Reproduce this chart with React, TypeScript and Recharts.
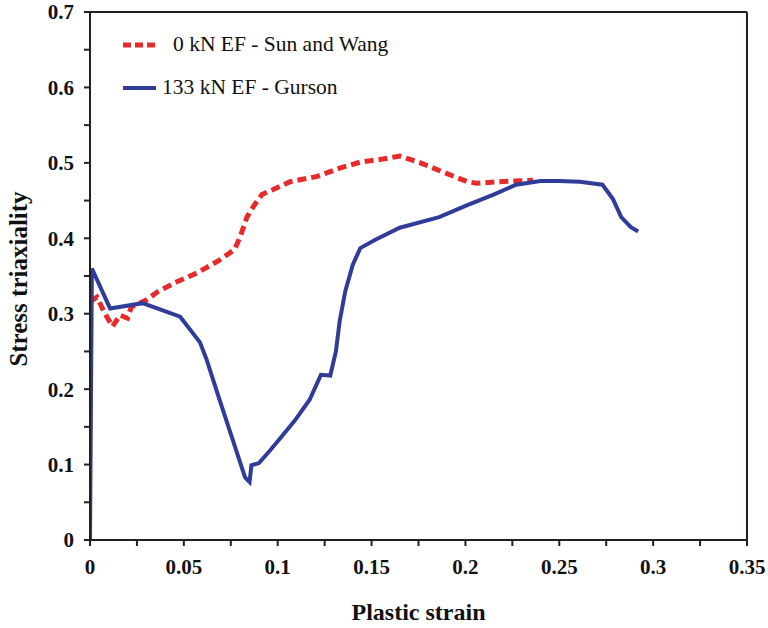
import React from "react";
import {
  LineChart, Line, XAxis, YAxis, ReferenceLine, Legend, Label,
} from "recharts";

// Sun and Wang, 0 kN EF
const sunWangStrain = [
  0, 0.0037, 0.008, 0.012, 0.016, 0.02, 0.022, 0.03, 0.036, 0.046, 0.057, 0.069,
  0.077, 0.08, 0.0836, 0.087, 0.0916, 0.097, 0.1066, 0.121, 0.133, 0.144, 0.156,
  0.165, 0.176, 0.188, 0.201, 0.206, 0.218, 0.236,
];
const sunWangTriax = [
  0.316, 0.322, 0.3, 0.283, 0.298, 0.294, 0.309, 0.318, 0.329, 0.342, 0.354, 0.371,
  0.385, 0.402, 0.428, 0.442, 0.458, 0.464, 0.475, 0.482, 0.493, 0.501, 0.505,
  0.509, 0.5, 0.488, 0.475, 0.473, 0.475, 0.477,
];

// Gurson, 133 kN EF
const gursonStrain = [
  0, 0.001, 0.0107, 0.028, 0.048, 0.0586, 0.062, 0.069, 0.076, 0.0826, 0.085,
  0.086, 0.09, 0.096, 0.101, 0.109, 0.117, 0.123, 0.128, 0.131, 0.133, 0.136,
  0.14, 0.144, 0.152, 0.165, 0.186, 0.201, 0.215, 0.227, 0.24, 0.25, 0.261,
  0.273, 0.2786, 0.283, 0.288, 0.292,
];
const gursonTriax = [
  0, 0.36, 0.307, 0.314, 0.296, 0.262, 0.24, 0.186, 0.133, 0.083, 0.077,
  0.099, 0.102, 0.119, 0.134, 0.158, 0.186, 0.219, 0.218, 0.25, 0.29, 0.33,
  0.365, 0.387, 0.398, 0.414, 0.428, 0.444, 0.458, 0.471, 0.476, 0.476, 0.475,
  0.471, 0.452, 0.428, 0.415, 0.409,
];

const xTicks = [0, 0.025, 0.05, 0.075, 0.1, 0.125, 0.15, 0.175, 0.2, 0.225, 0.25, 0.275, 0.3, 0.325, 0.35];
const xLabels = ["0", "", "0.05", "", "0.1", "", "0.15", "", "0.2", "", "0.25", "", "0.3", "", "0.35"];
const yTicks = [0, 0.05, 0.1, 0.15, 0.2, 0.25, 0.3, 0.35, 0.4, 0.45, 0.5, 0.55, 0.6, 0.65, 0.7];
const yLabels = ["0", "", "0.1", "", "0.2", "", "0.3", "", "0.4", "", "0.5", "", "0.6", "", "0.7"];

const sunWangData = sunWangStrain.map((x, i) => ({ x, y: sunWangTriax[i] }));
const gursonData = gursonStrain.map((x, i) => ({ x, y: gursonTriax[i] }));

const RED = "#e62b2a";
const BLUE = "#2f3c98";
const AXIS = "#231f20";
const FONT = "'Liberation Serif', 'Times New Roman', serif";

function LegendBox() {
  const rows = [
    { name: "0 kN EF - Sun and Wang", color: RED, dash: "8 4" },
    { name: "133 kN EF - Gurson", color: BLUE, dash: undefined },
  ];
  return (
    <div style={{ fontFamily: FONT, fontSize: 21.5, color: "#111" }}>
      {rows.map((r) => (
        <div key={r.name} style={{ display: "flex", alignItems: "center", height: 43 }}>
          <svg width={33} height={10} style={{ marginRight: r.dash ? 17 : 6 }}>
            <line x1={0} y1={5} x2={33} y2={5} stroke={r.color} strokeWidth={r.dash ? 5 : 4} strokeDasharray={r.dash} />
          </svg>
          <span>{r.name}</span>
        </div>
      ))}
    </div>
  );
}

export default function App() {
  return (
    <div style={{ position: "absolute", left: 0, top: 0, width: 768, height: 628, background: "#fff" }}>
      <LineChart width={768} height={628} margin={{ top: 12, right: 21, bottom: 0, left: 0 }}>
        <XAxis
          type="number"
          dataKey="x"
          domain={[0, 0.35]}
          ticks={xTicks}
          interval={0}
          tickFormatter={(v: number) => xLabels[xTicks.indexOf(v)] ?? ""}
          height={88}
          stroke={AXIS}
          strokeWidth={2}
          tickSize={6}
          tickMargin={13}
          tick={{ fontFamily: FONT, fontSize: 21, fontWeight: "bold", fill: "#111" }}
          allowDataOverflow
        >
          <Label
            value="Plastic strain"
            position="insideBottom"
            offset={8}
            style={{ fontFamily: FONT, fontSize: 24, fontWeight: "bold", fill: "#111" }}
          />
        </XAxis>
        <YAxis
          type="number"
          dataKey="y"
          domain={[0, 0.7]}
          ticks={yTicks}
          interval={0}
          tickFormatter={(v: number) => yLabels[yTicks.indexOf(v)] ?? ""}
          width={90}
          stroke={AXIS}
          strokeWidth={2}
          tickSize={6}
          tickMargin={10}
          tick={{ fontFamily: FONT, fontSize: 21, fontWeight: "bold", fill: "#111" }}
          allowDataOverflow
        >
          <Label
            value="Stress triaxiality"
            angle={-90}
            position="insideLeft"
            offset={18}
            dy={3}
            style={{ fontFamily: FONT, fontSize: 25, fontWeight: "bold", fill: "#111", textAnchor: "middle" }}
          />
        </YAxis>
        <ReferenceLine y={0.7} stroke={AXIS} strokeWidth={2} />
        <ReferenceLine x={0.35} stroke={AXIS} strokeWidth={2} />
        <Legend
          layout="horizontal"
          verticalAlign="middle"
          align="center"
          content={() => <LegendBox />}
          wrapperStyle={{ top: 23, left: 123, width: 380, height: 90 }}
        />
        <Line
          data={sunWangData}
          dataKey="y"
          name="0 kN EF - Sun and Wang"
          type="linear"
          stroke={RED}
          strokeWidth={5}
          strokeDasharray="9 5"
          dot={false}
          isAnimationActive={false}
        />
        <Line
          data={gursonData}
          dataKey="y"
          name="133 kN EF - Gurson"
          type="linear"
          stroke={BLUE}
          strokeWidth={4}
          dot={false}
          isAnimationActive={false}
        />
      </LineChart>
    </div>
  );
}
